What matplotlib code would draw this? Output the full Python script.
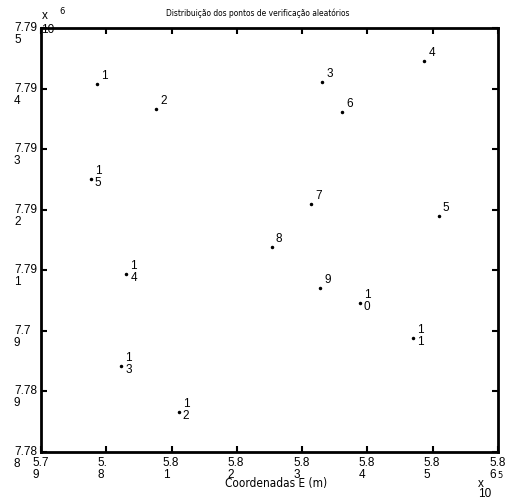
import matplotlib
matplotlib.use('Agg')
import matplotlib.pyplot as plt
from matplotlib.transforms import offset_copy

plt.rcParams['font.family'] = ['Liberation Sans', 'DejaVu Sans']
narrow = ['Liberation Sans Narrow', 'DejaVu Sans']

# pontos de verificacao (coordenadas UTM em metros)
point_ids = [1, 2, 3, 4, 5, 6, 7, 8, 9, 10, 11, 12, 13, 14, 15]
east = [579853, 580766, 583309, 584871, 585096, 583615, 583140, 582538,
        583274, 583886, 584693, 581109, 580230, 580307, 579761]
north = [7794075, 7793663, 7794113, 7794455, 7791901, 7793608, 7792094, 7791379,
         7790708, 7790455, 7789882, 7788660, 7789415, 7790934, 7792502]

xticks = [579000, 580000, 581000, 582000, 583000, 584000, 585000, 586000]
xtick_labels = ['5.7\n9', '5.\n8', '5.8\n1', '5.8\n2', '5.8\n3', '5.8\n4', '5.8\n5', '5.8\n6']
yticks = [7788000, 7789000, 7790000, 7791000, 7792000, 7793000, 7794000, 7795000]
ytick_labels = ['7.78\n8', '7.78\n9', '7.7\n9', '7.79\n1', '7.79\n2', '7.79\n3', '7.79\n4', '7.79\n5']

W, H = 510, 499
fig = plt.figure(figsize=(W / 100, H / 100), dpi=100)
ax = fig.add_axes([41 / W, 47 / H, 457 / W, 424 / H])

ax.plot(east, north, 'k.', ms=3)
for pid, x, y in zip(point_ids, east, north):
    lab = '\n'.join(str(pid))
    ax.annotate(lab, (x, y), xytext=(4, 14), textcoords='offset pixels',
                ha='left', va='top', fontsize=8.5, linespacing=1.0)

ax.set_xlim(579000, 586000)
ax.set_ylim(7788000, 7795000)
ax.set_xticks(xticks)
ax.set_yticks(yticks)
ax.tick_params(direction='in', length=4, width=1.5, top=True, right=True,
               labelbottom=False, labelleft=False)
for s in ax.spines.values():
    s.set_linewidth(2)

# rotulos dos eixos quebrados em duas linhas
xtr = offset_copy(ax.get_xaxis_transform(), fig=fig, x=-9, y=-5, units='dots')
for v, t in zip(xticks, xtick_labels):
    ax.text(v, 0, t, transform=xtr, ha='left', va='top', fontsize=8.5,
            linespacing=1.0, clip_on=False)
ytr = offset_copy(ax.get_yaxis_transform(), fig=fig, x=-27, y=6, units='dots')
for v, t in zip(yticks, ytick_labels):
    ax.text(0, v, t, transform=ytr, ha='left', va='top', fontsize=8.5,
            linespacing=1.0, clip_on=False)

fig.text(258 / W, 1 - 13 / H, 'Distribuição dos pontos de verificação aleatórios',
         ha='center', va='center', fontsize=6, family=narrow, fontstretch='condensed')
fig.text(276 / W, 1 - 484 / H, 'Coordenadas E (m)', ha='center', va='center',
         fontsize=8.5, family=narrow, fontstretch='condensed')

# fatores de escala
fig.text(45 / W, 1 - 16 / H, 'x', ha='center', va='center', fontsize=8.5)
fig.text(48 / W, 1 - 30 / H, '10', ha='center', va='center', fontsize=8.5)
fig.text(62 / W, 1 - 11 / H, '6', ha='center', va='center', fontsize=6, family=narrow)
fig.text(481 / W, 1 - 484 / H, 'x', ha='center', va='center', fontsize=8.5)
fig.text(485 / W, 1 - 494 / H, '10', ha='center', va='center', fontsize=8.5)
fig.text(500 / W, 1 - 475 / H, '5', ha='center', va='center', fontsize=6, family=narrow)

fig.savefig('out.png', dpi=100)
